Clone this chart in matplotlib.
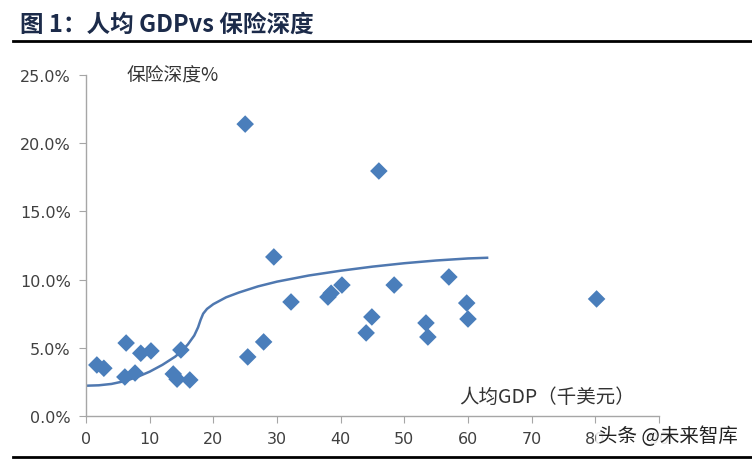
import matplotlib.pyplot as plt
from matplotlib.ticker import FuncFormatter

plt.rcParams['font.family'] = ['Noto Sans CJK SC', 'DejaVu Sans']

# Data: per-capita GDP (thousand USD) vs insurance depth (%)
gdp = [1.7, 2.8, 6.3, 6.1, 7.7, 8.6, 10.2, 13.7, 14.3, 14.9, 16.3,
       25.0, 25.4, 27.9, 29.5, 32.2, 38.0, 38.5, 40.2, 44.0, 44.9,
       46.0, 48.4, 53.4, 53.7, 57.0, 59.8, 60.0, 80.2]
depth = [3.74, 3.5, 5.35, 2.86, 3.15, 4.6, 4.77, 3.08, 2.7, 4.84, 2.64,
         21.4, 4.33, 5.43, 11.66, 8.36, 8.72, 9.0, 9.6, 6.09, 7.26,
         17.96, 9.6, 6.82, 5.79, 10.19, 8.28, 7.11, 8.58]

# Fitted trend curve
trend_x = [0, 2, 4, 6, 8, 10, 12, 14, 15, 16, 17, 17.6, 18.0, 18.4, 19, 20,
           22, 24, 27, 30, 35, 40, 45, 50, 55, 60, 63]
trend_y = [2.22, 2.25, 2.35, 2.55, 2.85, 3.25, 3.75, 4.35, 4.75, 5.25, 5.9,
           6.5, 7.05, 7.5, 7.85, 8.2, 8.7, 9.05, 9.5, 9.85, 10.3, 10.65,
           10.95, 11.2, 11.4, 11.55, 11.6]

xticks = [0, 10, 20, 30, 40, 50, 60, 70, 80, 90]
yticks = [0, 5, 10, 15, 20, 25]

fig = plt.figure(figsize=(7.52, 4.6), dpi=100)
ax = fig.add_axes([0.1144, 0.0935, 0.7619, 0.7413])

blue = '#4A7EBB'
ax.plot(trend_x, trend_y, color='#4F78B0', lw=1.8, zorder=2)
ax.scatter(gdp, depth, marker='D', s=80, color=blue, edgecolors='none', zorder=3)

ax.set_xlim(0, 90)
ax.set_ylim(0, 25)
ax.set_xticks(xticks)
ax.set_yticks(yticks)
ax.yaxis.set_major_formatter(FuncFormatter(lambda v, p: f'{v:.1f}%'))

for s in ['top', 'right']:
    ax.spines[s].set_visible(False)
for s in ['left', 'bottom']:
    ax.spines[s].set_color('#A6A6A6')
    ax.spines[s].set_linewidth(1.0)
ax.tick_params(axis='both', direction='out', length=5, color='#A6A6A6',
               labelsize=11.5, labelcolor='#404040', pad=6)
for lab in ax.get_xticklabels() + ax.get_yticklabels():
    lab.set_family(['DejaVu Sans'])

ax.text(0.0716, 1.0, '保险深度%', transform=ax.transAxes, fontsize=13.5,
        color='#333333', va='center', ha='left')
ax.text(0.652, 0.057, '人均GDP（千美元）', transform=ax.transAxes, fontsize=14,
        color='#333333', va='center', ha='left')

# title and rules
fig.text(0.027, 0.947, '图 1：人均 GDPvs 保险深度', fontsize=17, fontweight='bold',
         color='#1C2B4A', va='center', ha='left')
fig.add_artist(plt.Line2D([0.017, 1.0], [0.908, 0.908], color='black', lw=2))
fig.add_artist(plt.Line2D([0.017, 1.0], [0.004, 0.004], color='black', lw=2))

# watermark
fig.text(0.795, 0.05, '头条 @未来智库', fontsize=14, color='#222222',
         va='center', ha='left',
         bbox=dict(boxstyle='square,pad=0.1', fc='white', ec='none', alpha=0.85))

fig.savefig('out.png', dpi=100)
